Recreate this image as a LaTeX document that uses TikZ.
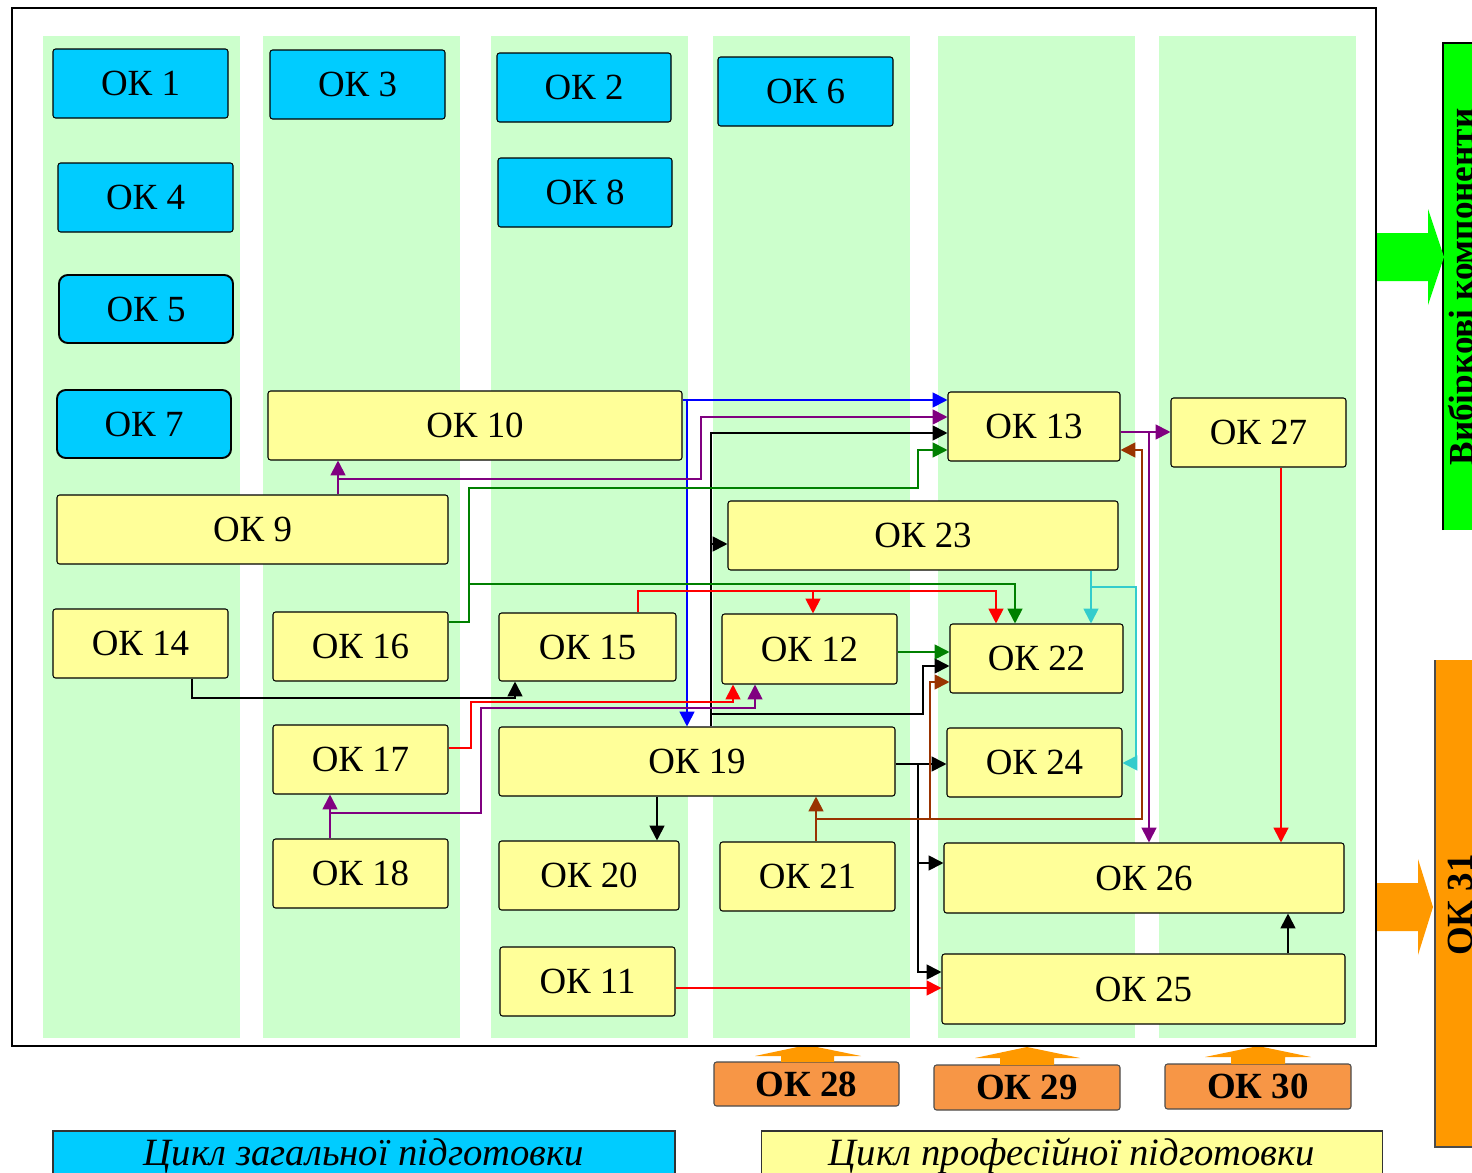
\documentclass[tikz,border=0pt]{standalone}
\usepackage{fontspec}
\setmainfont{Liberation Serif}
\usetikzlibrary{arrows.meta}
\definecolor{colg}{HTML}{CCFFCC}
\definecolor{boxb}{HTML}{00CCFF}
\definecolor{boxy}{HTML}{FFFF99}
\definecolor{boxo}{HTML}{F79646}
\definecolor{orng}{HTML}{FF9900}
\definecolor{grn}{HTML}{00FF00}
\definecolor{purp}{HTML}{800080}
\definecolor{brwn}{HTML}{993300}
\definecolor{cyn}{HTML}{33CCCC}
\definecolor{dgreen}{HTML}{008000}
\newcommand\mybox[7]{\node[#1, minimum width={(#5-#3)*0.02cm}, minimum height={(#6-#4)*0.02cm}] (#2) at ({(#3+#5)/2},{(#4+#6)/2}) {#7};}
\begin{document}
\begin{tikzpicture}[x=0.02cm, y=-0.02cm,
  txt/.style={font=\fontsize{21}{25}\selectfont},
  bluebox/.style={draw=black, line width=0.6pt, fill=boxb, rounded corners=1.5pt, inner sep=0pt, txt},
  bluebox2/.style={bluebox, line width=1.1pt, rounded corners=5pt},
  yelbox/.style={draw=black, line width=0.6pt, fill=boxy, rounded corners=1.5pt, inner sep=0pt, txt},
  orbox/.style={draw=black!70, line width=0.6pt, fill=boxo, rounded corners=1.5pt, inner sep=0pt, font=\bfseries\fontsize{21}{25}\selectfont},
  conn/.style={line width=1.1pt, -{Triangle[length=8.5pt,width=8.5pt]}},
]
\useasboundingbox (0,0) rectangle (1472,1173);
\clip (0,0) rectangle (1472,1173);
\fill[white] (0,0) rectangle (1472,1173);
% columns
\foreach \a/\b in {43/240, 263/460, 491/688, 713/910, 938/1135, 1159/1356}
  \fill[colg] (\a,36) rectangle (\b,1038);
% blue boxes
\mybox{bluebox}{OK1}{53}{49}{228}{118}{ОК 1}
\mybox{bluebox}{OK3}{270}{50}{445}{119}{ОК 3}
\mybox{bluebox}{OK2}{497}{53}{671}{122}{ОК 2}
\mybox{bluebox}{OK6}{718}{57}{893}{126}{ОК 6}
\mybox{bluebox}{OK4}{58}{163}{233}{232}{ОК 4}
\mybox{bluebox}{OK8}{498}{158}{672}{227}{ОК 8}
\mybox{bluebox2}{OK5}{59}{275}{233}{343}{ОК 5}
\mybox{bluebox2}{OK7}{57}{390}{231}{458}{ОК 7}
% yellow boxes
\mybox{yelbox}{OK10}{268}{391}{682}{460}{ОК 10}
\mybox{yelbox}{OK9}{57}{495}{448}{564}{ОК 9}
\mybox{yelbox}{OK13}{948}{392}{1120}{461}{ОК 13}
\mybox{yelbox}{OK27}{1171}{398}{1346}{467}{ОК 27}
\mybox{yelbox}{OK23}{728}{501}{1118}{570}{ОК 23}
\mybox{yelbox}{OK14}{53}{609}{228}{678}{ОК 14}
\mybox{yelbox}{OK16}{273}{612}{448}{681}{ОК 16}
\mybox{yelbox}{OK15}{499}{613}{676}{681}{ОК 15}
\mybox{yelbox}{OK12}{722}{614}{897}{684}{ОК 12}
\mybox{yelbox}{OK22}{950}{624}{1123}{693}{ОК 22}
\mybox{yelbox}{OK17}{273}{725}{448}{794}{ОК 17}
\mybox{yelbox}{OK19}{499}{727}{895}{796}{ОК 19}
\mybox{yelbox}{OK24}{947}{728}{1122}{797}{ОК 24}
\mybox{yelbox}{OK18}{273}{839}{448}{908}{ОК 18}
\mybox{yelbox}{OK20}{499}{841}{679}{910}{ОК 20}
\mybox{yelbox}{OK21}{720}{842}{895}{911}{ОК 21}
\mybox{yelbox}{OK26}{944}{843}{1344}{913}{ОК 26}
\mybox{yelbox}{OK11}{500}{947}{675}{1016}{ОК 11}
\mybox{yelbox}{OK25}{942}{954}{1345}{1024}{ОК 25}
% junctions
\coordinate (jB) at (687,400);
\coordinate (jP1) at (338,479);
\coordinate (jK1) at (711,433);
\coordinate (jK2) at (711,544);
\coordinate (jK3) at (711,714);
\coordinate (jG1) at (469,584);
\coordinate (jR1) at (813,591);
\coordinate (jP2) at (330,813);
\coordinate (jK4) at (918,764);
\coordinate (jK5) at (918,863);
\coordinate (jW1) at (816,819);
\coordinate (jW2) at (930,819);
\coordinate (jP3) at (1149,432);
\coordinate (jC1) at (1091,587);
% connectors
\draw[conn,blue] (OK10.east |- jB) -- (OK13.west |- jB);
\draw[conn,blue] (jB) -- (jB |- OK19.north);
\draw[conn,purp] (OK9.north -| jP1) -- (OK10.south -| jP1);
\draw[conn,purp] (jP1) -- (701,479) -- (701,417) -- (OK13.west |- 0,417);
\draw[conn] (OK19.north -| jK1) -- (jK1) -- (OK13.west |- jK1);
\draw[conn] (jK2) -- (OK23.west |- jK2);
\draw[conn] (jK3) -- (923,714) -- (923,666) -- (OK22.west |- 0,666);
\draw[conn,dgreen] (OK16.east |- 0,622) -- (469,622) -- (469,488) -- (918,488) -- (918,450) -- (OK13.west |- 0,450);
\draw[conn,dgreen] (jG1) -- (1015,584) -- (OK22.north -| 1015,0);
\draw[conn,dgreen] (OK12.east |- 0,652) -- (OK22.west |- 0,652);
\draw[conn,red] (OK15.north -| 638,0) -- (638,591) -- (996,591) -- (OK22.north -| 996,0);
\draw[conn,red] (jR1) -- (OK12.north -| jR1);
\draw[conn,red] (OK17.east |- 0,748) -- (471,748) -- (471,702) -- (733,702) -- (OK12.south -| 733,0);
\draw[conn,purp] (OK18.north -| jP2) -- (OK17.south -| jP2);
\draw[conn,purp] (jP2) -- (481,813) -- (481,708) -- (755,708) -- (OK12.south -| 755,0);
\draw[conn] (OK14.south -| 192,0) -- (192,698) -- (515,698) -- (OK15.south -| 515,0);
\draw[conn] (OK19.south -| 657,0) -- (OK20.north -| 657,0);
\draw[conn] (OK19.east |- jK4) -- (OK24.west |- jK4);
\draw[conn] (jK4) -- (918,972) -- (OK25.west |- 0,972);
\draw[conn] (jK5) -- (OK26.west |- jK5);
\draw[conn,brwn] (OK21.north -| jW1) -- (OK19.south -| jW1);
\draw[conn,brwn] (jW1) -- (1142,819) -- (1142,450) -- (OK13.east |- 0,450);
\draw[conn,brwn] (jW2) -- (930,682) -- (OK22.west |- 0,682);
\draw[conn,purp] (OK13.east |- jP3) -- (OK27.west |- jP3);
\draw[conn,purp] (jP3) -- (OK26.north -| jP3);
\draw[conn,red] (OK27.south -| 1281,0) -- (OK26.north -| 1281,0);
\draw[conn] (OK25.north -| 1288,0) -- (OK26.south -| 1288,0);
\draw[conn,red] (OK11.east |- 0,988) -- (OK25.west |- 0,988);
\draw[conn,cyn] (OK23.south -| jC1) -- (OK22.north -| jC1);
\draw[conn,cyn] (jC1) -- (1136,587) -- (1136,763) -- (OK24.east |- 0,763);
% bottom orange boxes and arrows
\mybox{orbox}{OK28}{714}{1062}{899}{1106}{ОК 28}
\mybox{orbox}{OK29}{934}{1065}{1120}{1110}{ОК 29}
\mybox{orbox}{OK30}{1165}{1064}{1351}{1109}{ОК 30}
\fill[orng] (781,1062) -- (781,1056) -- (755,1056) -- (807,1045) -- (861,1056) -- (834,1056) -- (834,1062) -- cycle;
\fill[orng] (1000,1065) -- (1000,1058) -- (975,1058) -- (1027,1047) -- (1080,1058) -- (1054,1058) -- (1054,1065) -- cycle;
\fill[orng] (1231,1064) -- (1231,1057) -- (1205,1057) -- (1258,1046) -- (1311,1057) -- (1285,1057) -- (1285,1064) -- cycle;
% frame
\draw[line width=1.2pt] (12,8) rectangle (1376,1046);
% right side
\fill[grn] (1443,43) rectangle (1480,530);
\draw[line width=0.8pt] (1443,530) -- (1443,43) -- (1480,43);
\fill[grn] (1377,233) -- (1428,233) -- (1428,209) -- (1444,257) -- (1428,305) -- (1428,281) -- (1377,281) -- cycle;
\node[rotate=90, anchor=north, inner sep=0pt, font=\bfseries\fontsize{20}{24}\selectfont] (VK) at (1448,287) {Вибіркові компоненти};
\fill[orng] (1435,660) rectangle (1480,1147);
\draw[line width=0.6pt, black!70] (1435,660) -- (1435,1147) -- (1480,1147);
\fill[orng] (1377,883) -- (1418,883) -- (1418,859) -- (1433,907) -- (1418,955) -- (1418,931) -- (1377,931) -- cycle;
\node[rotate=90, anchor=north, inner sep=0pt, font=\bfseries\fontsize{21}{25}\selectfont] (V31) at (1448,905) {ОК 31};
% bottom labels
\node[draw=black!80, line width=0.6pt, fill=boxb, minimum width={622*0.02cm}, minimum height={50*0.02cm}, inner sep=0pt, font=\itshape\fontsize{22}{26}\selectfont] (LabG) at (364,1156) {Цикл загальної підготовки};
\node[draw=black!80, line width=0.6pt, fill=boxy, minimum width={621*0.02cm}, minimum height={50*0.02cm}, inner sep=0pt, font=\itshape\fontsize{22}{26}\selectfont] (LabP) at (1072,1156) {Цикл професійної підготовки};
\end{tikzpicture}
\end{document}
